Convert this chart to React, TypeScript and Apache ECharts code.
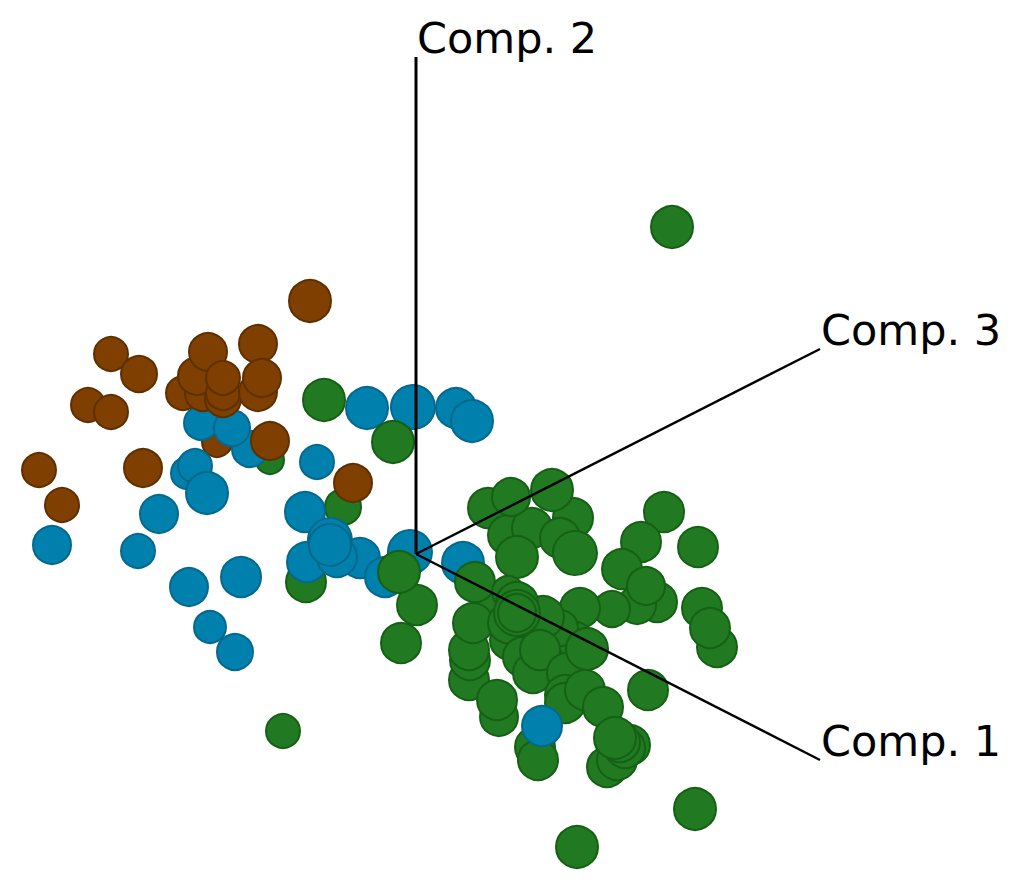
import React, { useEffect, useRef } from "react";
import * as echarts from "echarts";

// Each point: [horizontal score, vertical score, depth weight]
const axisNames = ["Comp. 1", "Comp. 2", "Comp. 3"];
const axisOrigin = [416, 554];
const axisEnds = [[820, 760], [416, 57], [820, 349]];

const greenBehind = [
  [270, 460, 14], [343, 507, 18], [306, 582, 20],
  [535, 747, 20], [538, 760, 20],
];
const brownBehind = [[217, 442, 15]];
const blueMain = [
  [250, 449, 18], [201, 423, 17], [232, 428, 18], [317, 462, 17], [187, 473, 16], [195, 466, 17],
  [207, 493, 21], [159, 514, 19], [52, 545, 19], [138, 551, 17], [367, 408, 21], [413, 407, 22],
  [456, 408, 20], [472, 421, 21], [305, 512, 20], [307, 562, 20], [360, 558, 20], [337, 557, 20],
  [330, 540, 22], [330, 545, 21], [385, 577, 20], [410, 552, 22], [463, 563, 21], [189, 587, 19],
  [241, 577, 20], [210, 627, 16], [235, 652, 18],
];
const greenMain = [
  [672, 227, 21], [324, 400, 21], [393, 442, 21], [283, 731, 17],
  [417, 605, 20], [401, 643, 20], [399, 572, 21],
  [488, 508, 20], [573, 518, 20], [508, 535, 20], [532, 528, 20], [511, 497, 19], [552, 490, 21],
  [560, 538, 20], [575, 553, 22], [517, 557, 21], [664, 512, 20], [698, 547, 20],
  [641, 542, 20], [622, 569, 20], [657, 602, 20], [637, 605, 19], [612, 609, 18], [646, 586, 19],
  [702, 608, 20], [717, 647, 20], [710, 628, 20], [580, 608, 20],
  [469, 680, 20], [470, 660, 20], [469, 650, 20], [490, 602, 18], [473, 623, 20], [475, 582, 20],
  [508, 592, 16], [510, 640, 20], [545, 640, 20], [575, 640, 18], [560, 628, 18],
  [508, 623, 20], [543, 617, 21], [517, 603, 21], [517, 613, 23], [517, 613, 19],
  [523, 657, 20], [533, 673, 20], [540, 650, 20], [567, 673, 20], [587, 649, 21],
  [648, 690, 20], [499, 717, 19], [497, 700, 20], [565, 695, 20], [565, 703, 20], [585, 690, 20], [603, 707, 20],
  [607, 767, 20], [617, 760, 20], [630, 745, 20], [625, 748, 20], [620, 742, 20], [615, 738, 21],
  [695, 809, 21], [577, 847, 21],
];
const brownMain = [
  [310, 301, 21], [258, 344, 19], [111, 354, 17], [139, 374, 18], [88, 405, 17], [111, 412, 17],
  [183, 393, 17], [203, 393, 18], [197, 376, 19], [208, 352, 19], [223, 399, 18], [223, 393, 17], [223, 378, 17],
  [258, 392, 19], [262, 378, 19], [39, 470, 17], [143, 468, 19], [62, 505, 17],
  [270, 441, 19], [353, 483, 19],
];
const blueFront = [[542, 726, 20]];

const GREEN = { color: "#217a21", borderColor: "#156015", borderWidth: 2, opacity: 1 };
const BLUE = { color: "#0081ad", borderColor: "#05688c", borderWidth: 2, opacity: 1 };
const BROWN = { color: "#7f3f00", borderColor: "#5e3000", borderWidth: 2, opacity: 1 };

function dots(name: string, data: number[][], itemStyle: object) {
  return {
    type: "scatter",
    name,
    data,
    symbol: "circle",
    symbolSize: (v: number[]) => v[2] * 2,
    itemStyle,
    silent: true,
  };
}

export default function App() {
  const ref = useRef<HTMLDivElement>(null);
  useEffect(() => {
    const chart = echarts.init(ref.current!, undefined, { renderer: "svg" });
    const axisLines = axisEnds.map((end, i) => ({
      type: "line",
      name: axisNames[i],
      data: [axisOrigin, end],
      showSymbol: false,
      symbol: "none",
      silent: true,
      lineStyle: { color: "#000", width: i === 1 ? 3 : 2.4 },
    }));
    chart.setOption({
      animation: false,
      backgroundColor: "#fff",
      grid: { left: 0, right: 0, top: 0, bottom: 0 },
      xAxis: { type: "value", min: 0, max: 1024, show: false },
      yAxis: { type: "value", min: 0, max: 891, inverse: true, show: false },
      series: [
        ...axisLines,
        dots("green-back", greenBehind, GREEN),
        dots("brown-back", brownBehind, BROWN),
        dots("blue", blueMain, BLUE),
        dots("green", greenMain, GREEN),
        dots("brown", brownMain, BROWN),
        dots("blue-front", blueFront, BLUE),
        {
          type: "scatter",
          name: "axis-labels",
          symbolSize: 0,
          silent: true,
          itemStyle: { opacity: 1 },
          data: axisEnds.map((end, i) => ({
            value: end,
            label: {
              show: true,
              position: "right",
              distance: 1,
              offset: [0, -19],
              formatter: axisNames[i],
              color: "#000",
              opacity: 1,
              fontFamily: "DejaVu Sans",
              fontSize: 43,
            },
          })),
        },
      ],
    });
    return () => chart.dispose();
  }, []);
  return (
    <div
      ref={ref}
      style={{ position: "absolute", left: 0, top: 0, width: 1024, height: 891 }}
    />
  );
}
